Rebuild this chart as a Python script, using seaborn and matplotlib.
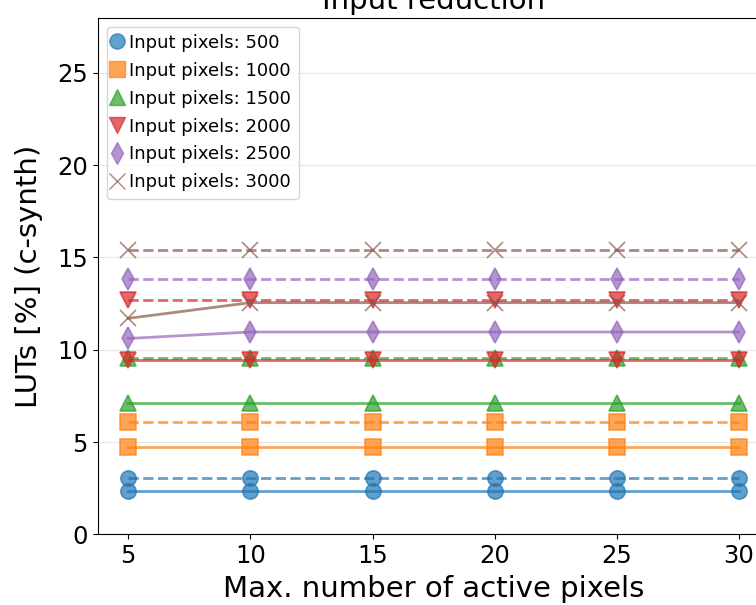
import matplotlib
matplotlib.use("Agg")
import matplotlib.pyplot as plt
from matplotlib.lines import Line2D
import seaborn as sns
import pandas as pd

max_active = [5, 10, 15, 20, 25, 30]
input_pixels = [500, 1000, 1500, 2000, 2500, 3000]

# solid series
luts_solid_500 = [2.37, 2.37, 2.37, 2.37, 2.37, 2.37]
luts_solid_1000 = [4.71, 4.71, 4.71, 4.71, 4.71, 4.71]
luts_solid_1500 = [7.13, 7.13, 7.13, 7.13, 7.13, 7.13]
luts_solid_2000 = [9.43, 9.43, 9.43, 9.43, 9.43, 9.43]
luts_solid_2500 = [10.61, 10.96, 10.96, 10.96, 10.96, 10.96]
luts_solid_3000 = [11.70, 12.55, 12.55, 12.55, 12.55, 12.55]

# dashed series
luts_dashed_500 = [3.04, 3.04, 3.04, 3.04, 3.04, 3.04]
luts_dashed_1000 = [6.07, 6.07, 6.07, 6.07, 6.07, 6.07]
luts_dashed_1500 = [9.55, 9.55, 9.55, 9.55, 9.55, 9.55]
luts_dashed_2000 = [12.70, 12.70, 12.70, 12.70, 12.70, 12.70]
luts_dashed_2500 = [13.82, 13.82, 13.82, 13.82, 13.82, 13.82]
luts_dashed_3000 = [15.38, 15.38, 15.38, 15.38, 15.38, 15.38]

solid = [luts_solid_500, luts_solid_1000, luts_solid_1500,
         luts_solid_2000, luts_solid_2500, luts_solid_3000]
dashed = [luts_dashed_500, luts_dashed_1000, luts_dashed_1500,
          luts_dashed_2000, luts_dashed_2500, luts_dashed_3000]

markers = ["o", "s", "^", "v", "d", "x"]
colors = sns.color_palette("tab10", 6)

fig = plt.figure(figsize=(7.56, 6.05), dpi=100)
ax = fig.add_axes([97.7 / 756, 1 - 534.3 / 605, (769.5 - 97.7) / 756, (534.3 - 17.5) / 605])

ax.yaxis.grid(True, color="#dddddd", alpha=0.6, linewidth=1)
ax.set_axisbelow(True)

for i, px in enumerate(input_pixels):
    for vals, ls in ((solid[i], "-"), (dashed[i], "--")):
        df = pd.DataFrame({"x": max_active, "y": vals})
        sns.lineplot(data=df, x="x", y="y", ax=ax, color=colors[i],
                     linestyle=ls, marker=markers[i], markersize=11,
                     markeredgecolor=colors[i], markeredgewidth=1.2,
                     linewidth=2, alpha=0.7, legend=False)

ax.set_xlim(3.75, 31.25)
ax.set_ylim(0, 28)
ax.set_xticks(max_active)
ax.set_yticks([0, 5, 10, 15, 20, 25])
ax.tick_params(labelsize=17.5)
ax.set_xlabel("Max. number of active pixels", fontsize=21, labelpad=5)
ax.set_ylabel("LUTs [%] (c-synth)", fontsize=21, labelpad=10)
ax.set_title("Input reduction", fontsize=21)

handles = [Line2D([], [], linestyle="none", marker=markers[i], markersize=11,
                  color=colors[i], markeredgecolor=colors[i], alpha=0.7)
           for i in range(6)]
labels = [f"Input pixels: {p}" for p in input_pixels]
ax.legend(handles, labels, loc="upper left", fontsize=13, handlelength=0.3,
          handletextpad=0.55, labelspacing=0.55, borderpad=0.4)

fig.savefig("out.png", dpi=100)
